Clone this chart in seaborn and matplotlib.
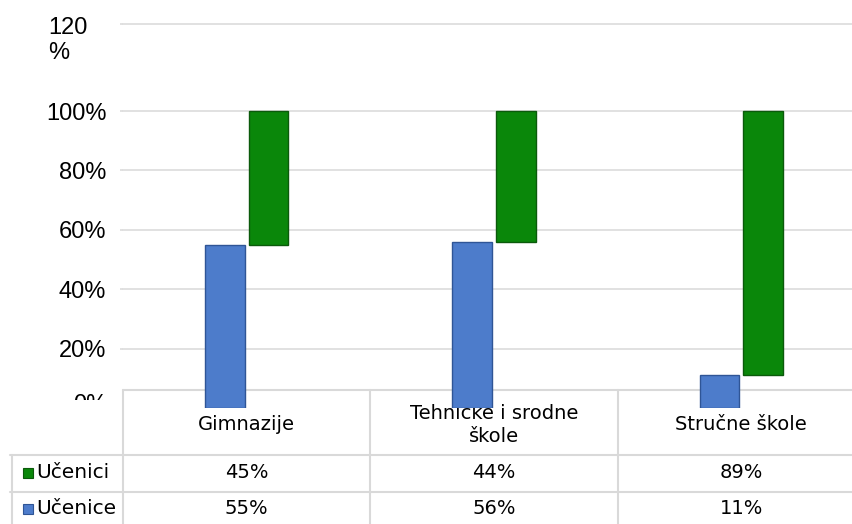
import matplotlib
matplotlib.use("Agg")
import matplotlib.pyplot as plt
import matplotlib.transforms as mtransforms
from matplotlib.patches import Rectangle
import seaborn as sns
import pandas as pd

# ---------------- data ----------------
categories = ["Gimnazije", "Tehničke i srodne škole", "Stručne škole"]
cat_labels = ["Gimnazije", "Tehničke i srodne\nškole", "Stručne škole"]
series = ["Učenice", "Učenici"]
ucenice = [55, 56, 11]
ucenici = [45, 44, 89]
ytick_vals = [20, 40, 60, 80, 100]
ytick_labels = ["20%", "40%", "60%", "80%", "100%"]

# ---------------- style ----------------
sns.set_theme(style="white")
plt.rcParams["font.family"] = ["Liberation Sans", "DejaVu Sans"]
plt.rcParams["text.color"] = "black"

blue, blue_edge = "#4D7CCB", "#2F5596"
green, green_edge = "#0A870A", "#0B5A0B"
grid_c = "#D9D9D9"
table_font = ["DejaVu Sans"]

df = pd.DataFrame({
    "cat": categories * 2,
    "series": [series[0]] * 3 + [series[1]] * 3,
    "value": ucenice + ucenici,
})

W, H = 853, 524
L, R, T, B = 123, 865, 24, 408
Y_TOP = 129.3

fig = plt.figure(figsize=(W / 100, H / 100), dpi=100)
fig.patch.set_facecolor("white")
ax = fig.add_axes([L / W, (H - B) / H, (R - L) / W, (B - T) / H])
ax.patch.set_alpha(0)

sns.barplot(data=df, x="cat", y="value", hue="series", hue_order=series,
            order=categories, palette=[blue, green], width=0.352, gap=0.09,
            ax=ax, legend=False, saturation=1)

for bar in ax.containers[0]:
    bar.set_edgecolor(blue_edge); bar.set_linewidth(1.0); bar.set_zorder(3)
for bar, base in zip(ax.containers[1], ucenice):
    bar.set_y(base)
    bar.set_edgecolor(green_edge); bar.set_linewidth(1.0); bar.set_zorder(3)

ax.set_ylim(0, Y_TOP)
ax.set_xlim(-0.5, 2.5)
ax.set_xlabel(""); ax.set_ylabel("")
ax.set_yticks(ytick_vals + [Y_TOP])
ax.set_yticklabels(ytick_labels + [""], fontsize=17, color="black")
ax.tick_params(axis="y", length=2.5, width=1.1, color=grid_c, pad=9.5, left=True)
ax.tick_params(axis="x", bottom=False, labelbottom=False)
ax.yaxis.grid(True, color=grid_c, linewidth=1.1)
ax.set_axisbelow(True)
for gl in ax.get_ygridlines():
    gl.set_clip_on(False)
for s in ax.spines.values():
    s.set_visible(False)


def px(p):
    return (p - L) / (R - L)


def py(p):
    return (B - p) / (B - T)


ta = ax.transAxes
bt = mtransforms.blended_transform_factory(ax.transData, ax.transAxes)

# special y labels
ax.text(px(48), py(17), "120\n%", transform=ta, ha="left", va="top",
        fontsize=17, linespacing=1.2, zorder=1.0, color="black")
ax.text(px(107), py(405), "0%", transform=ta, ha="right", va="center",
        fontsize=17, zorder=1.0, color="black")

# table background
ax.add_patch(Rectangle((px(L), py(H + 5)), 1.5, py(390) - py(H + 5),
                       transform=ta, facecolor="white", edgecolor="none",
                       zorder=1.2, clip_on=False))
ax.add_patch(Rectangle((px(0), py(H + 5)), px(L) - px(0), py(400) - py(H + 5),
                       transform=ta, facecolor="white", edgecolor="none",
                       zorder=1.2, clip_on=False))

line_kw = dict(color=grid_c, linewidth=1.5, zorder=1.3, clip_on=False)
ax.plot([px(L), px(R)], [py(390), py(390)], transform=ta, **line_kw)
for yy in (455, 492):
    ax.plot([px(10), px(R)], [py(yy), py(yy)], transform=ta, **line_kw)
for xb in (-0.5, 0.5, 1.5):
    ax.plot([xb, xb], [py(390), py(H + 5)], transform=bt, **line_kw)
ax.plot([px(12), px(12)], [py(455), py(H + 5)], transform=ta, **line_kw)

# table texts
for i, lab in enumerate(cat_labels):
    ax.text(i, py(425), lab, transform=bt, ha="center", va="center",
            fontsize=14, family=table_font, linespacing=1.3, zorder=1.4,
            color="black")
    ax.text(i, py(473), f"{ucenici[i]}%", transform=bt, ha="center",
            va="center", fontsize=14, family=table_font, zorder=1.4,
            color="black")
    ax.text(i, py(509), f"{ucenice[i]}%", transform=bt, ha="center",
            va="center", fontsize=14, family=table_font, zorder=1.4,
            color="black")

for yy, name, col, ec in ((473, series[1], green, green_edge),
                          (509, series[0], blue, blue_edge)):
    ax.plot([px(27.5)], [py(yy)], transform=ta, marker="s", markersize=7.5,
            color=col, markeredgecolor=ec, markeredgewidth=0.8,
            clip_on=False, zorder=1.4)
    ax.text(px(36), py(yy), name, transform=ta, ha="left", va="center",
            fontsize=14.5, family=table_font, zorder=1.4, color="black")

fig.savefig("out.png", dpi=100, facecolor="white")
